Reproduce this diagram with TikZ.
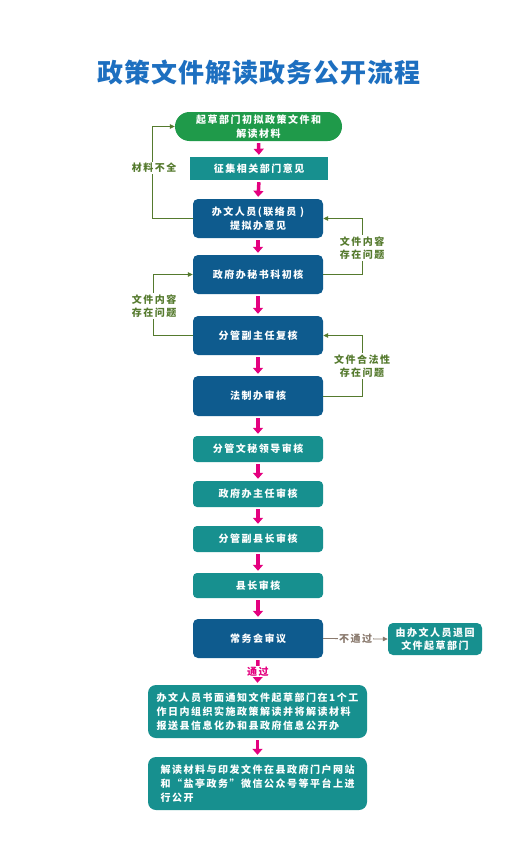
\documentclass[tikz,border=0pt]{standalone}
\usepackage{fontspec}
\setmainfont{Noto Sans CJK SC}
\newfontfamily\cjk{Noto Sans CJK SC}[LetterSpace=15]
\newfontfamily\titlefont{Noto Sans CJK SC}[LetterSpace=4]
\usetikzlibrary{arrows.meta}

\definecolor{titleblue}{HTML}{1D6FC0}
\definecolor{draftgreen}{HTML}{1F9A4A}
\definecolor{boxteal}{HTML}{17908F}
\definecolor{boxblue}{HTML}{0E5B8E}
\definecolor{flowpink}{HTML}{E4007F}
\definecolor{loopgreen}{HTML}{557A2E}
\definecolor{rejgray}{HTML}{8A7A6E}

\begin{document}
\begin{tikzpicture}[x=1pt, y=-1pt,
		stepbase/.style={text=white, font=\cjk\bfseries\fontsize{10}{13.5}\selectfont, align=center, inner sep=2pt},
		bluebox/.style={stepbase, fill=boxblue, rounded corners=5pt, minimum width=130pt, minimum height=39pt},
		tealbox/.style={stepbase, fill=boxteal, rounded corners=4pt, minimum width=130pt, minimum height=26pt},
		widebox/.style={stepbase, fill=boxteal, rounded corners=8pt, minimum width=219pt, minimum height=53pt, align=left, font=\cjk\bfseries\fontsize{10}{14}\selectfont},
		flow/.style={flowpink, line width=3.5pt, shorten <=2pt, shorten >=2pt, -{Triangle[width=10pt,length=6pt]}},
		loopline/.style={loopgreen, line width=0.8pt, -{Triangle[width=4.5pt,length=5pt]}},
		looplabel/.style={fill=white, text=loopgreen, font=\cjk\bfseries\fontsize{10}{13.5}\selectfont, align=center, inner sep=1pt}]
	
	% Bildgroesse
	\useasboundingbox[fill=white] (0,0) rectangle (507,862);
	
	% Titel
	\node[text=titleblue, font=\titlefont\bfseries\fontsize{26}{30}\selectfont] (title) at (259,73) {政策文件解读政务公开流程};
	
	% Hauptschritte
	\node[stepbase, fill=draftgreen, rounded corners=14.5pt, minimum width=167pt, minimum height=29pt] (draft) at (258.5,126.5) {起草部门初拟政策文件和\\解读材料};
	\node[stepbase, fill=boxteal, minimum width=138pt, minimum height=23pt] (collect) at (259,168.5) {征集相关部门意见};
	\node[bluebox] (clerk) at (258,218.5) {办文人员(联络员 )\\提拟办意见};
	\node[bluebox] (office) at (258,274.5) {政府办秘书科初核};
	\node[bluebox] (deputy) at (258,335.5) {分管副主任复核};
	\node[bluebox, minimum height=40pt] (legal) at (258,396) {法制办审核};
	\node[tealbox] (secretary) at (258,449) {分管文秘领导审核};
	\node[tealbox] (director) at (258,494) {政府办主任审核};
	\node[tealbox] (vicehead) at (258,539) {分管副县长审核};
	\node[tealbox, minimum height=25pt] (head) at (258,585.5) {县长审核};
	\node[bluebox] (council) at (258,638.5) {常务会审议};
	\node[stepbase, fill=boxteal, rounded corners=5pt, minimum width=94pt, minimum height=32pt] (back) at (435,639) {由办文人员退回\\文件起草部门};
	\node[widebox] (notify) at (257.5,711.5) {办文人员书面通知文件起草部门在1个工\\作日内组织实施政策解读并将解读材料\\报送县信息化办和县政府信息公开办};
	\node[widebox] (publish) at (257.5,783.5) {解读材料与印发文件在县政府门户网站\\和“盐亭政务”微信公众号等平台上进\\行公开};
	
	% Pfeile nach unten
	\draw[flow] (draft.south) -- (collect.north);
	\draw[flow] (collect.south) -- (clerk.north);
	\draw[flow] (clerk.south) -- (office.north);
	\draw[flow] (office.south) -- (deputy.north);
	\draw[flow] (deputy.south) -- (legal.north);
	\draw[flow] (legal.south) -- (secretary.north);
	\draw[flow] (secretary.south) -- (director.north);
	\draw[flow] (director.south) -- (vicehead.north);
	\draw[flow] (vicehead.south) -- (head.north);
	\draw[flow] (head.south) -- (council.north);
	\draw[flow] (council.south) -- node[fill=white, text=flowpink, font=\cjk\bfseries\fontsize{10}{12}\selectfont, inner sep=1pt] {通过} (notify.north);
	\draw[flow] (notify.south) -- (publish.north);
	
	% Ruecklaeufe
	\draw[loopline] (clerk.west) -- ++(-40,0) |- (draft.west);
	\draw[loopline] (office.east) -- ++(39,0) |- (clerk.east);
	\draw[loopline] (deputy.west) -- ++(-39,0) |- (office.west);
	\draw[loopline] (legal.east) -- ++(39,0) |- (deputy.east);
	\node[looplabel] at (154,168) {材料不全};
	\node[looplabel] at (362,248) {文件内容\\存在问题};
	\node[looplabel] at (154,306) {文件内容\\存在问题};
	\node[looplabel] at (362,366) {文件合法性\\存在问题};
	
	% Nicht bestanden
	\draw[rejgray, line width=0.8pt, -{Triangle[width=4.5pt,length=5pt]}] (council.east) -- node[fill=white, text=rejgray, font=\cjk\bfseries\fontsize{10}{12}\selectfont, inner sep=1pt] {不通过} (back.west);
	
\end{tikzpicture}
\end{document}
